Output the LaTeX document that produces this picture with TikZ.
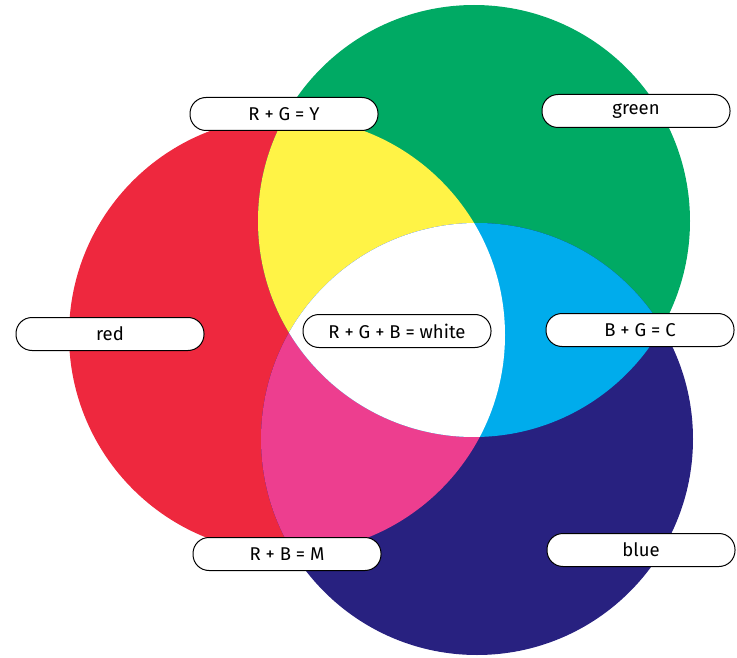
\documentclass[tikz,border=0pt]{standalone}
\usepackage{fontspec}
\setmainfont{Fira Sans}
\definecolor{lightred}{RGB}{238,40,62}
\definecolor{lightgreen}{RGB}{0,170,100}
\definecolor{lightblue}{RGB}{40,33,128}
\definecolor{mixyellow}{RGB}{255,243,70}
\definecolor{mixcyan}{RGB}{0,172,236}
\definecolor{mixmagenta}{RGB}{237,62,143}

\def\redlamp{(287,335) circle[radius=218pt]}
\def\greenlamp{(474,221) circle[radius=216pt]}
\def\bluelamp{(477,439) circle[radius=216pt]}

\begin{document}
\begin{tikzpicture}[x=1pt,y=-1pt,
  tag/.style={draw, line width=1pt, fill=white, rounded corners=16pt,
    minimum width=188pt, minimum height=33pt, inner sep=0pt,
    font=\fontsize{18.5}{22}\selectfont}]
\useasboundingbox (0,0) rectangle (737,658);

% the three lamps
\fill[lightred] \redlamp;
\fill[lightgreen] \greenlamp;
\fill[lightblue] \bluelamp;

% where two of them overlap
\begin{scope}
\clip \redlamp;
\fill[mixyellow] \greenlamp;
\fill[mixmagenta] \bluelamp;
\end{scope}
\begin{scope}
\clip \greenlamp;
\fill[mixcyan] \bluelamp;
\end{scope}

% all three
\begin{scope}
\clip \redlamp;
\clip \greenlamp;
\fill[white] \bluelamp;
\end{scope}

\node[tag] (ry) at (284,114) {R + G = Y};
\node[tag] (gr) at (636,111) {green};
\node[tag] (rd) at (110,334) {red};
\node[tag] (wh) at (397,331) {R + G + B = white};
\node[tag] (bc) at (640,330) {B + G = C};
\node[tag] (rm) at (287,554) {R + B = M};
\node[tag] (bl) at (641,550) {blue};
\end{tikzpicture}
\end{document}
